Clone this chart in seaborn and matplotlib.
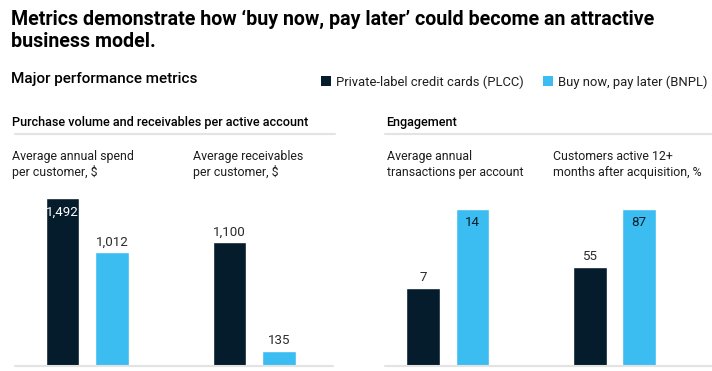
import numpy as np
import pandas as pd
import matplotlib
matplotlib.use("Agg")
import matplotlib.pyplot as plt
import seaborn as sns
from matplotlib.patches import Rectangle
from matplotlib.lines import Line2D

# ---------------- data ----------------
title_lines = ["Metrics demonstrate how \u2018buy now, pay later\u2019 could become an attractive",
               "business model."]
chart_heading = "Major performance metrics"
series_names = ["Private-label credit cards (PLCC)", "Buy now, pay later (BNPL)"]
section_titles = ["Purchase volume and receivables per active account", "Engagement"]
metric_titles = ["Average annual spend\nper customer, $",
                 "Average receivables\nper customer, $",
                 "Average annual\ntransactions per account",
                 "Customers active 12+\nmonths after acquisition, %"]
plcc_values = [1492, 1100, 7, 55]
bnpl_values = [1012, 135, 14, 87]

# ---------------- style ----------------
colors = ["#051c2c", "#3bbdf2"]
text_dark = "#1e1e1e"
rule_color = "#e3e3e3"

W, H = 712, 371
sns.set_theme(style="white")
plt.rcParams["font.family"] = ["Roboto", "DejaVu Sans"]

fig = plt.figure(figsize=(W / 100, H / 100), dpi=100)
renderer = fig.canvas.get_renderer()


def fx(x):
    return x / W


def fy(y):
    return 1 - y / H


def fit(t, target):
    bb = t.get_window_extent(renderer=renderer)
    t.set_fontsize(t.get_fontsize() * target / bb.width)
    return t.get_fontsize()


# title
t = fig.text(fx(11), fy(25), title_lines[0], fontsize=13, fontweight="semibold",
             va="baseline", color="#000000")
fs_title = fit(t, 644)
fig.text(fx(11), fy(46.7), title_lines[1], fontsize=fs_title, fontweight="semibold",
         va="baseline", color="#000000")

# heading
t = fig.text(fx(11), fy(83.3), chart_heading, fontsize=10, fontweight="medium",
             va="baseline", color="#000000")
fit(t, 186)

# legend
t = fig.text(fx(336), fy(86), series_names[0], fontsize=10, va="baseline", color=text_dark)
fs_leg = fit(t, 187)
fig.text(fx(558), fy(86), series_names[1], fontsize=fs_leg, va="baseline", color=text_dark)
for sx, c in zip([321, 543], colors):
    fig.add_artist(Rectangle((fx(sx), fy(86)), 10 / W, 10 / H, transform=fig.transFigure,
                             facecolor=c, edgecolor="none"))

# section titles
t = fig.text(fx(12), fy(126), section_titles[0], fontsize=9.5, fontweight="medium",
             va="baseline", color="#000000")
fs_sec = fit(t, 298)
fig.text(fx(386), fy(126), section_titles[1], fontsize=fs_sec, fontweight="medium",
         va="baseline", color="#000000")

# section rules and baselines
for (x0, x1) in [(15, 335), (385, 712)]:
    fig.add_artist(Line2D([fx(x0), fx(x1)], [fy(134.3)] * 2, color=rule_color, lw=1.5))
for (x0, x1) in [(15, 333), (385, 712)]:
    fig.add_artist(Line2D([fx(x0), fx(x1)], [fy(366.3)] * 2, color=rule_color, lw=1.5))

# metric subtitles
sub_x = [12, 193, 387, 553]
probe = fig.text(0, 0, "transactions per account", fontsize=10)
fs_sub = fit(probe, 138)
probe.remove()
for x, mt in zip(sub_x, metric_titles):
    for k, line in enumerate(mt.split("\n")):
        fig.text(fx(x), fy(160 + 16 * k), line, fontsize=fs_sub, va="baseline", color=text_dark)

# number label size
fs_num = 9.6

# ---------------- bars ----------------
pair_mid = [87.3, 254.3, 447.9, 614.6]
step_px = 49.3
half_px = 80
top_px, bot_px = 198, 366
fill_frac = [167.7 / 168, 167.7 / 168, 157 / 168, 157 / 168]
left_max = max(plcc_values[:2] + bnpl_values[:2])
group_max = [left_max, left_max,
             max(plcc_values[2], bnpl_values[2]), max(plcc_values[3], bnpl_values[3])]

for i in range(4):
    ax = fig.add_axes([fx(pair_mid[i] - half_px), fy(bot_px),
                       2 * half_px / W, (bot_px - top_px) / H])
    df = pd.DataFrame({"series": series_names,
                       "value": [plcc_values[i], bnpl_values[i]]})
    sns.barplot(data=df, x="series", y="value", hue="series", hue_order=series_names,
                order=series_names, palette=colors, saturation=1, width=0.68,
                legend=False, ax=ax)
    span = half_px / step_px
    ax.set_xlim(0.5 - span, 0.5 + span)
    ymax = group_max[i] / fill_frac[i]
    ax.set_ylim(0, ymax)
    ax.set_axis_off()
    vals = [plcc_values[i], bnpl_values[i]]
    for p, v, c in zip(ax.patches, vals, colors):
        xc = p.get_x() + p.get_width() / 2
        h = p.get_height()
        if h >= 0.9 * ymax:
            col = "white" if c == colors[0] else "#0d1b26"
            ax.annotate(f"{v:,}", xy=(xc, h), xytext=(0, -17 * 0.72), textcoords="offset points",
                        ha="center", va="baseline", fontsize=fs_num, color=col)
        else:
            ax.annotate(f"{v:,}", xy=(xc, h), xytext=(0, 6.5 * 0.72), textcoords="offset points",
                        ha="center", va="baseline", fontsize=fs_num, color="#2b2b2b")

fig.savefig("out.png", dpi=100)
